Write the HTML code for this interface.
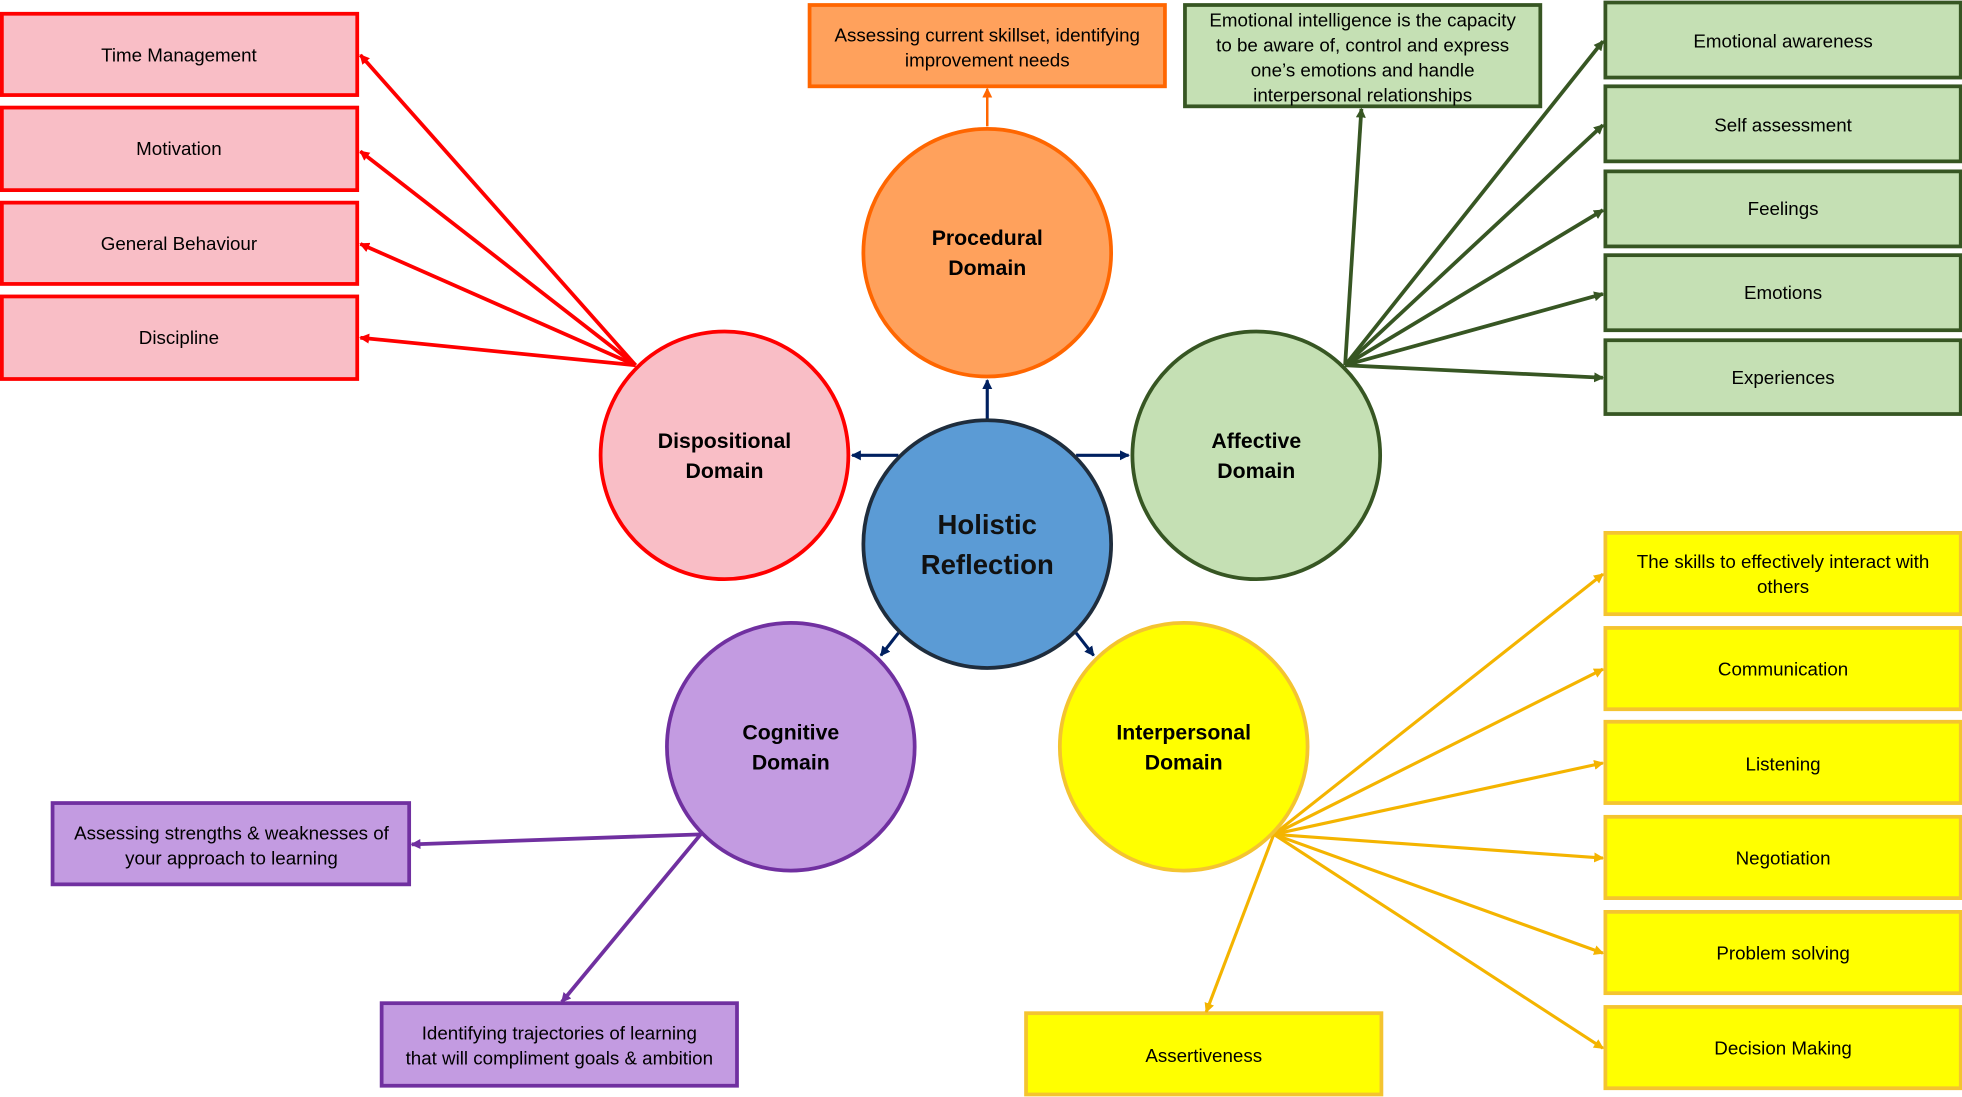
<!DOCTYPE html>
<html><head><meta charset="utf-8"><style>
html,body{margin:0;padding:0;background:#fff;}
svg{display:block;}
text{font-family:"Liberation Sans",sans-serif;}
</style></head><body>
<svg width="1962" height="1097" viewBox="0 0 1568 877" preserveAspectRatio="none" xmlns="http://www.w3.org/2000/svg">
<defs>
<marker id="mr" markerWidth="8" markerHeight="8" refX="7" refY="4" orient="auto" markerUnits="userSpaceOnUse"><path d="M0,0 L8,4 L0,8 z" fill="#ff0000"/></marker>
<marker id="mg" markerWidth="8" markerHeight="8" refX="7" refY="4" orient="auto" markerUnits="userSpaceOnUse"><path d="M0,0 L8,4 L0,8 z" fill="#375623"/></marker>
<marker id="mo" markerWidth="8" markerHeight="8" refX="7" refY="4" orient="auto" markerUnits="userSpaceOnUse"><path d="M0,0 L8,4 L0,8 z" fill="#ff6600"/></marker>
<marker id="mn" markerWidth="8" markerHeight="8" refX="7" refY="4" orient="auto" markerUnits="userSpaceOnUse"><path d="M0,0 L8,4 L0,8 z" fill="#002060"/></marker>
<marker id="mp" markerWidth="8" markerHeight="8" refX="7" refY="4" orient="auto" markerUnits="userSpaceOnUse"><path d="M0,0 L8,4 L0,8 z" fill="#7030a0"/></marker>
<marker id="my" markerWidth="8" markerHeight="8" refX="7" refY="4" orient="auto" markerUnits="userSpaceOnUse"><path d="M0,0 L8,4 L0,8 z" fill="#f4b400"/></marker>
</defs>

<!-- red boxes -->
<g fill="#f9bec6" stroke="#ff0000" stroke-width="3">
<rect x="1.5" y="11" width="284" height="65"/>
<rect x="1.5" y="86" width="284" height="66"/>
<rect x="1.5" y="162" width="284" height="65"/>
<rect x="1.5" y="237" width="284" height="66"/>
</g>
<g font-size="15" text-anchor="middle" fill="#000">
<text x="143" y="49">Time Management</text>
<text x="143" y="124">Motivation</text>
<text x="143" y="200">General Behaviour</text>
<text x="143" y="275">Discipline</text>
</g>
<g stroke="#ff0000" stroke-width="3" marker-end="url(#mr)">
<line x1="508" y1="292" x2="288" y2="44"/>
<line x1="508" y1="292" x2="288" y2="121"/>
<line x1="508" y1="292" x2="288" y2="195"/>
<line x1="508" y1="292" x2="288" y2="270"/>
</g>

<!-- orange -->
<rect x="647" y="4" width="284" height="65" fill="#ffa15c" stroke="#ff6600" stroke-width="3"/>
<g font-size="15" text-anchor="middle"><text x="789" y="33">Assessing current skillset, identifying</text><text x="789" y="53">improvement needs</text></g>
<line x1="789" y1="101" x2="789" y2="71" stroke="#ff6600" stroke-width="2" marker-end="url(#mo)"/>

<!-- green -->
<rect x="947" y="4" width="284" height="81" fill="#c5e0b4" stroke="#375623" stroke-width="3"/>
<g font-size="15" text-anchor="middle"><text x="1089" y="21">Emotional intelligence is the capacity</text><text x="1089" y="41">to be aware of, control and express</text><text x="1089" y="61">one’s emotions and handle</text><text x="1089" y="81">interpersonal relationships</text></g>
<g fill="#c5e0b4" stroke="#375623" stroke-width="3">
<rect x="1283" y="2" width="284" height="60"/>
<rect x="1283" y="69" width="284" height="60"/>
<rect x="1283" y="137" width="284" height="60"/>
<rect x="1283" y="204" width="284" height="60"/>
<rect x="1283" y="272" width="284" height="59"/>
</g>
<g font-size="15" text-anchor="middle">
<text x="1425" y="38">Emotional awareness</text>
<text x="1425" y="105">Self assessment</text>
<text x="1425" y="172">Feelings</text>
<text x="1425" y="239">Emotions</text>
<text x="1425" y="307">Experiences</text>
</g>
<g stroke="#375623" stroke-width="3" marker-end="url(#mg)">
<line x1="1075" y1="292" x2="1281" y2="33"/>
<line x1="1075" y1="292" x2="1281" y2="100"/>
<line x1="1075" y1="292" x2="1281" y2="168"/>
<line x1="1075" y1="292" x2="1281" y2="235"/>
<line x1="1075" y1="292" x2="1281" y2="302"/>
<line x1="1075" y1="292" x2="1088" y2="87"/>
</g>

<!-- purple -->
<g fill="#c39be1" stroke="#7030a0" stroke-width="3">
<rect x="42" y="642" width="285" height="65"/>
<rect x="305" y="802" width="284" height="66"/>
</g>
<g font-size="15" text-anchor="middle">
<text x="185" y="671">Assessing strengths &amp; weaknesses of</text><text x="185" y="691">your approach to learning</text>
<text x="447" y="831">Identifying trajectories of learning</text><text x="447" y="851">that will compliment goals &amp; ambition</text>
</g>
<g stroke="#7030a0" stroke-width="3" marker-end="url(#mp)">
<line x1="560" y1="667" x2="329" y2="675"/>
<line x1="560" y1="667" x2="449" y2="801"/>
</g>

<!-- yellow -->
<g fill="#ffff00" stroke="#f4c430" stroke-width="3">
<rect x="1283" y="426" width="284" height="65"/>
<rect x="1283" y="502" width="284" height="65"/>
<rect x="1283" y="577" width="284" height="65"/>
<rect x="1283" y="653" width="284" height="65"/>
<rect x="1283" y="729" width="284" height="65"/>
<rect x="1283" y="805" width="284" height="65"/>
<rect x="820" y="810" width="284" height="65"/>
</g>
<g font-size="15" text-anchor="middle">
<text x="1425" y="454">The skills to effectively interact with</text><text x="1425" y="474">others</text>
<text x="1425" y="540">Communication</text>
<text x="1425" y="616">Listening</text>
<text x="1425" y="691">Negotiation</text>
<text x="1425" y="767">Problem solving</text>
<text x="1425" y="843">Decision Making</text>
<text x="962" y="849">Assertiveness</text>
</g>
<g stroke="#f4b400" stroke-width="2.5" marker-end="url(#my)">
<line x1="1018" y1="667" x2="1281" y2="459"/>
<line x1="1018" y1="667" x2="1281" y2="535"/>
<line x1="1018" y1="667" x2="1281" y2="610"/>
<line x1="1018" y1="667" x2="1281" y2="686"/>
<line x1="1018" y1="667" x2="1281" y2="762"/>
<line x1="1018" y1="667" x2="1281" y2="838"/>
<line x1="1018" y1="667" x2="964" y2="809"/>
</g>

<!-- navy arrows -->
<g stroke="#002060" stroke-width="2.5" marker-end="url(#mn)">
<line x1="789" y1="335" x2="789" y2="304"/>
<line x1="718" y1="364" x2="681" y2="364"/>
<line x1="860" y1="364" x2="902" y2="364"/>
<line x1="718" y1="506" x2="704" y2="524"/>
<line x1="860" y1="506" x2="874" y2="524"/>
</g>

<!-- circles -->
<circle cx="579" cy="364" r="99" fill="#f9bec6" stroke="#ff0000" stroke-width="3"/>
<circle cx="789" cy="202" r="99" fill="#ffa15c" stroke="#ff6600" stroke-width="3"/>
<circle cx="1004" cy="364" r="99" fill="#c5e0b4" stroke="#375623" stroke-width="3"/>
<circle cx="632" cy="597" r="99" fill="#c39be1" stroke="#7030a0" stroke-width="3"/>
<circle cx="946" cy="597" r="99" fill="#ffff00" stroke="#f4c430" stroke-width="3"/>
<circle cx="789" cy="435" r="99" fill="#5b9bd5" stroke="#1f2d3d" stroke-width="3"/>

<g font-size="17" font-weight="bold" text-anchor="middle">
<text x="579" y="358">Dispositional</text><text x="579" y="382">Domain</text>
<text x="789" y="196">Procedural</text><text x="789" y="220">Domain</text>
<text x="1004" y="358">Affective</text><text x="1004" y="382">Domain</text>
<text x="632" y="591">Cognitive</text><text x="632" y="615">Domain</text>
<text x="946" y="591">Interpersonal</text><text x="946" y="615">Domain</text>
</g>
<g font-size="22" font-weight="bold" text-anchor="middle" fill="#111">
<text x="789" y="427">Holistic</text><text x="789" y="459">Reflection</text>
</g>
</svg>
</body></html>
